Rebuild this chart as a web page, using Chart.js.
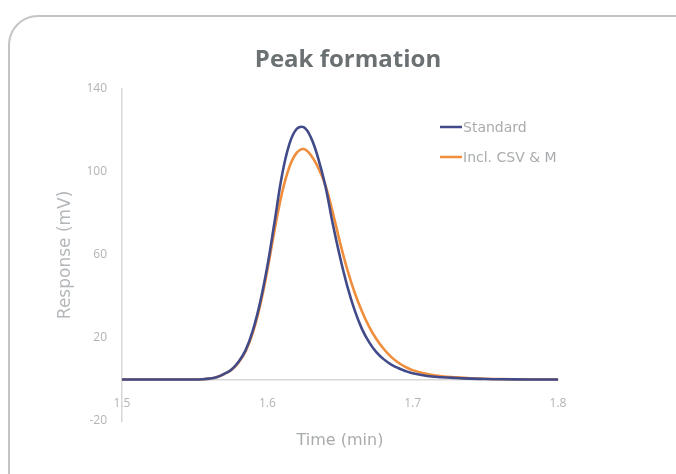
<!DOCTYPE html>
<html>
<head>
<meta charset="utf-8">
<script src="https://cdn.jsdelivr.net/npm/chart.js@4"></script>
<style>
  html, body { margin: 0; padding: 0; background: #fff; overflow: hidden; }
  #wrap { position: relative; width: 676px; height: 474px; }
  #frame { position: absolute; left: 8px; top: 15px; width: 720px; height: 520px;
           border: 2.5px solid #c4c4c4; border-radius: 30px; box-sizing: border-box; }
  #chart { position: absolute; left: 0; top: 0; }
</style>
</head>
<body>
<div id="wrap">
  <div id="frame"></div>
  <canvas id="chart" width="676" height="474"></canvas>
</div>
<script>
var times = [1.50, 1.52, 1.54, 1.55, 1.555, 1.56, 1.565, 1.57, 1.575, 1.58, 1.585, 1.59, 1.595,
  1.60, 1.605, 1.61, 1.615, 1.62, 1.625, 1.63, 1.635, 1.64, 1.645, 1.65, 1.655, 1.66, 1.665,
  1.67, 1.675, 1.68, 1.685, 1.69, 1.695, 1.70, 1.71, 1.72, 1.73, 1.74, 1.75, 1.76, 1.78, 1.80];

var standard = [0, 0, 0, 0, 0.1, 0.4, 1.1, 2.6, 4.6, 8.3, 14, 23.5, 37,
  54.5, 76, 98, 113, 120.5, 121.5, 116.5, 106.5, 93, 75, 59, 45, 33.5, 24.5,
  18, 13.2, 9.8, 7.3, 5.5, 4.1, 3.0, 1.7, 1.1, 0.7, 0.4, 0.2, 0.1, 0, 0];

var inclCsvM = [0, 0, 0, 0, 0.1, 0.4, 1.1, 2.5, 4.5, 8, 13.5, 22.5, 35.5,
  52.5, 72, 89.5, 102, 109, 111, 108, 102, 93.5, 80.5, 66, 53, 42, 33,
  25.5, 19.5, 14.8, 11.0, 8.2, 6.1, 4.5, 2.6, 1.5, 1.0, 0.6, 0.35, 0.2, 0.05, 0];

var seriesNames = ['Standard', 'Incl. CSV & M'];
var yTicks = [-20, 20, 60, 100, 140];
var xTicks = [1.5, 1.6, 1.7, 1.8];

var FONT = "'Open Sans', sans-serif";
var WIDE = "'DejaVu Sans', sans-serif";

function toPoints(vals) {
  return vals.map(function(v, i) { return { x: times[i], y: v }; });
}

// legend drawn in the top right corner of the plot, stacked like the original
var sideLegend = {
  id: 'sideLegend',
  afterDraw: function(chart) {
    var ctx = chart.ctx;
    ctx.save();
    ctx.font = '14px ' + WIDE;
    ctx.textBaseline = 'middle';
    chart.data.datasets.forEach(function(ds, i) {
      var y = 127 + i * 30;
      ctx.strokeStyle = ds.borderColor;
      ctx.lineWidth = 2.5;
      ctx.beginPath();
      ctx.moveTo(440, y);
      ctx.lineTo(462, y);
      ctx.stroke();
      ctx.fillStyle = '#a9acae';
      ctx.fillText(ds.label, 463, y + 1);
    });
    ctx.restore();
  }
};

var ctx = document.getElementById('chart').getContext('2d');
new Chart(ctx, {
  type: 'line',
  data: {
    datasets: [{
      label: seriesNames[0],
      data: toPoints(standard),
      borderColor: '#424b8a',
      borderWidth: 2.6,
      pointRadius: 0,
      tension: 0.4
    }, {
      label: seriesNames[1],
      data: toPoints(inclCsvM),
      borderColor: '#ef8e3c',
      borderWidth: 2.6,
      pointRadius: 0,
      tension: 0.4
    }]
  },
  options: {
    responsive: false,
    animation: false,
    layout: { padding: { left: 20, right: 0, top: 0, bottom: 53 } },
    plugins: {
      legend: { display: false },
      tooltip: { enabled: false },
      title: {
        display: true,
        text: 'Peak formation',
        color: '#6b7073',
        font: { family: FONT, size: 24, weight: 'bold' },
        padding: { top: 46, bottom: 14 }
      }
    },
    scales: {
      x: {
        type: 'linear',
        position: { y: 0 },
        min: 1.5,
        max: 1.8,
        afterBuildTicks: function(s) { s.ticks = xTicks.map(function(v) { return { value: v }; }); },
        ticks: {
          color: '#b3b3b3',
          font: { family: FONT, size: 12 },
          padding: 17,
          callback: function(v) { return v.toFixed(1); }
        },
        grid: { display: false, drawTicks: false },
        border: { color: '#d8d8d8', width: 1.5 },
        title: {
          display: true,
          text: 'Time (min)',
          color: '#a9acae',
          font: { family: WIDE, size: 16 },
          padding: { top: 3, bottom: 0 }
        }
      },
      y: {
        min: -20,
        max: 140,
        afterBuildTicks: function(s) { s.ticks = yTicks.map(function(v) { return { value: v }; }); },
        afterFit: function(s) { s.width = 102; },
        ticks: {
          color: '#b3b3b3',
          font: { family: FONT, size: 12 },
          padding: 15
        },
        grid: { display: false, drawTicks: false },
        border: { color: '#d8d8d8', width: 1.5 },
        title: {
          display: true,
          text: 'Response (mV)',
          color: '#b5b8ba',
          font: { family: WIDE, size: 17 },
          padding: { top: 35, bottom: 0 }
        }
      },
      // empty right-hand axis that only reserves the margin right of the plot
      spacer: {
        type: 'linear',
        position: 'right',
        display: true,
        afterFit: function(s) { s.width = 118; },
        ticks: { display: false },
        grid: { display: false, drawTicks: false },
        border: { display: false }
      }
    }
  },
  plugins: [sideLegend]
});
</script>
</body>
</html>
